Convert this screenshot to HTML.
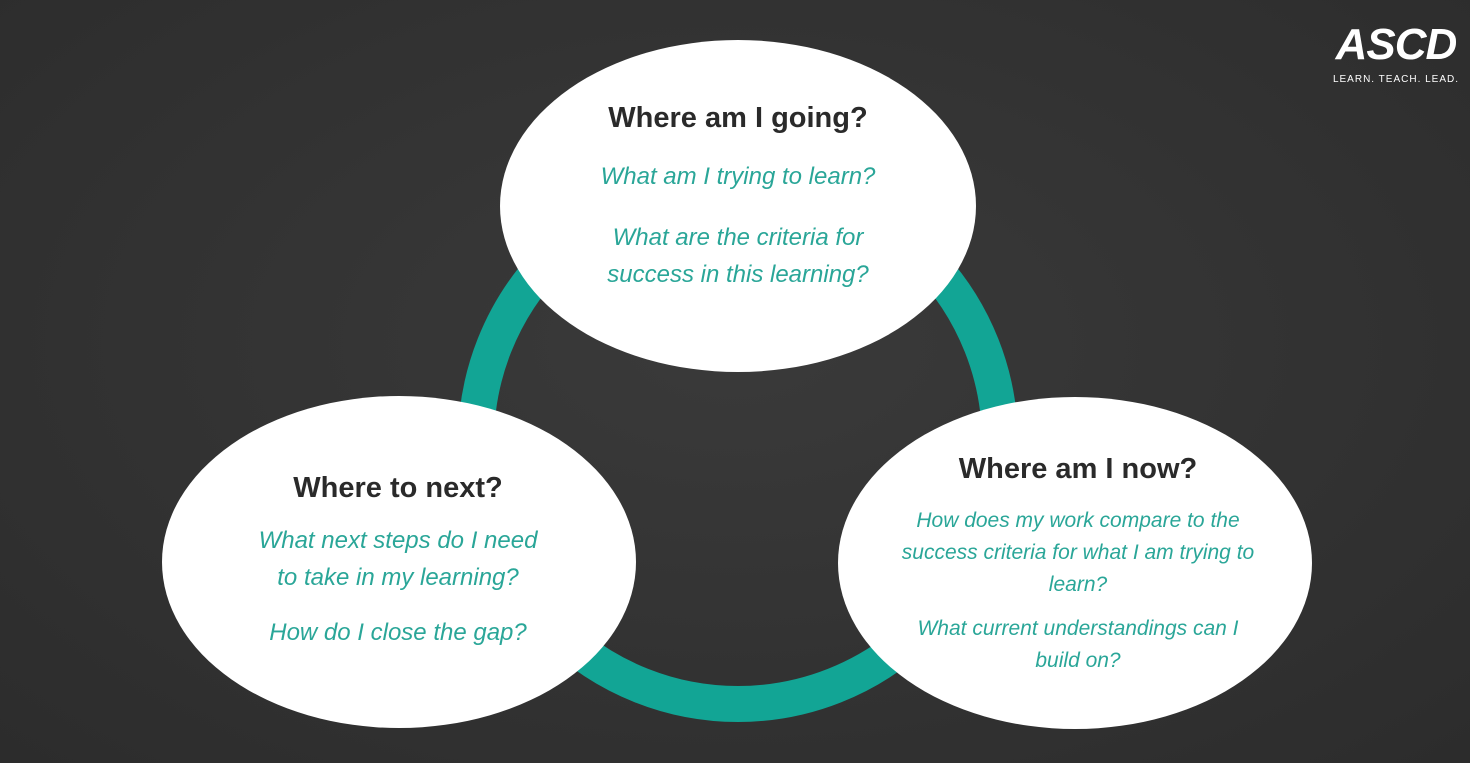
<!DOCTYPE html>
<html><head><style>
html,body{margin:0;padding:0;}
body{width:1470px;height:763px;overflow:hidden;background:radial-gradient(ellipse at 50% 45%,#3a3a3a 0%,#333 50%,#2c2c2c 100%);font-family:"Liberation Sans",sans-serif;position:relative;}
.t{position:absolute;text-align:center;}
.h{font-weight:bold;color:#2a2a2a;font-size:29px;}
.i{font-style:italic;color:#2aa698;font-size:24px;line-height:37px;}
.s{font-style:italic;color:#2aa698;font-size:21px;line-height:32px;}
</style></head><body>
<svg width="1470" height="763" style="position:absolute;left:0;top:0">
<circle cx="738" cy="442" r="262" fill="none" stroke="#12a595" stroke-width="36"/>
<ellipse cx="738" cy="206" rx="238" ry="166" fill="#fff"/>
<ellipse cx="399" cy="562" rx="237" ry="166" fill="#fff"/>
<ellipse cx="1075" cy="563" rx="237" ry="166" fill="#fff"/>
</svg>
<div class="t h" style="left:538px;width:400px;top:102px">Where am I going?</div>
<div class="t i" style="left:538px;width:400px;top:158px">What am I trying to learn?</div>
<div class="t i" style="left:538px;width:400px;top:219px">What are the criteria for<br>success in this learning?</div>
<div class="t h" style="left:198px;width:400px;top:472px">Where to next?</div>
<div class="t i" style="left:198px;width:400px;top:522px">What next steps do I need<br>to take in my learning?</div>
<div class="t i" style="left:198px;width:400px;top:614px">How do I close the gap?</div>
<div class="t h" style="left:878px;width:400px;top:453px">Where am I now?</div>
<div class="t s" style="left:858px;width:440px;top:505px">How does my work compare to the<br>success criteria for what I am trying to<br>learn?</div>
<div class="t s" style="left:858px;width:440px;top:613px">What current understandings can I<br>build on?</div>
<div style="position:absolute;left:1330px;top:22px;width:132px;text-align:center;color:#fff">
<div style="font-weight:bold;font-style:italic;font-size:44px;line-height:46px;letter-spacing:-1px">ASCD</div>
<div style="font-size:10px;letter-spacing:1px;margin-top:6px">LEARN. TEACH. LEAD.</div>
</div>
</body></html>
